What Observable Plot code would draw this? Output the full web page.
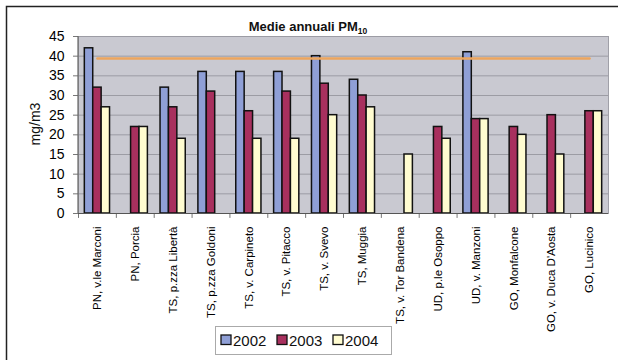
<!DOCTYPE html>
<html>
<head>
<meta charset="utf-8">
<script src="https://cdn.jsdelivr.net/npm/d3@7"></script>
<script src="https://cdn.jsdelivr.net/npm/@observablehq/plot@0.6"></script>
<style>
  body { margin: 0; background: #fff; }
  #chart svg { font-family: "Liberation Sans", Arial, sans-serif; }
</style>
</head>
<body>
<div id="chart"></div>
<script>
// Annual PM10 averages by monitoring station (mg/m3)
const stations = [
  "PN, v.le Marconi", "PN, Porcia", "TS, p.zza Libertà", "TS, p.zza Goldoni",
  "TS, v. Carpineto", "TS, v. Pitacco", "TS, v. Svevo", "TS, Muggia",
  "TS, v. Tor Bandena", "UD, p.le Osoppo", "UD, v. Manzoni", "GO, Monfalcone",
  "GO, v. Duca D'Aosta", "GO, Lucinico"
];
const years = ["2002", "2003", "2004"];
const pm2002 = [42, null, 32, 36, 36, 36, 40, 34, null, null, 41, null, null, null];
const pm2003 = [32, 22, 27, 31, 26, 31, 33, 30, null, 22, 24, 22, 25, 26];
const pm2004 = [27, 22, 19, null, 19, 19, 25, 27, 15, 19, 24, 20, 15, 26];
const limitValue = 39.4;
const yTicks = [0, 5, 10, 15, 20, 25, 30, 35, 40, 45];
const yearColors = ["#8f9fd6", "#a8305e", "#fffcd0"];

const W = 618, H = 360;
const mL = 78, mR = 10, mT = 36, mB = 147;
const band = (W - mL - mR) / stations.length;
const barW = 8.4;
const inset = (band - barW) / 2;

const series = [pm2002, pm2003, pm2004];
const rows = series.flatMap((vals, i) =>
  stations.map((s, j) => ({station: s, year: years[i], value: vals[j]}))
).filter(d => d.value != null);

const barMarks = years.map((yr, i) =>
  Plot.barY(rows.filter(d => d.year === yr), {
    x: "station", y: "value", fill: "year",
    stroke: "#111", strokeWidth: 1.5,
    insetLeft: inset, insetRight: inset, dx: (i - 1) * barW
  })
);

const plot = Plot.plot({
  width: W, height: H,
  marginLeft: mL, marginRight: mR, marginTop: mT, marginBottom: mB,
  style: {background: "transparent", fontFamily: "Liberation Sans, Arial, sans-serif"},
  x: {domain: stations, padding: 0, round: false, label: null},
  y: {domain: [0, 45], label: null},
  color: {domain: years, range: yearColors},
  marks: [
    Plot.frame({fill: "#c9c9d1", stroke: "#a0a0a8"}),
    Plot.gridY(yTicks, {stroke: "#9c9ca4", strokeOpacity: 1}),
    ...barMarks,
    Plot.line(stations, {x: d => d, y: () => limitValue, stroke: "#eda55d", strokeWidth: 2.5}),
    Plot.ruleX(stations, {x: d => d, y1: 0, y2: -1.25, dx: -band / 2, stroke: "#777", clip: false}),
    Plot.ruleY([0], {stroke: "#555", strokeWidth: 1.2}),
    Plot.axisY({ticks: yTicks, tickSize: 5, tickPadding: 9, fontSize: 14, stroke: "#777", label: null}),
    Plot.axisX({tickSize: 0, tickRotate: -90, tickPadding: 13, fontSize: 11.5, label: null})
  ]
});

document.getElementById("chart").appendChild(plot);

const svg = d3.select(plot);

// outer frame
svg.append("path")
  .attr("d", `M6.5,${H}V6.5H${W}`)
  .attr("fill", "none").attr("stroke", "#222").attr("stroke-width", 1.5);

// left axis line
svg.append("line")
  .attr("x1", mL).attr("x2", mL).attr("y1", mT).attr("y2", H - mB)
  .attr("stroke", "#666").attr("stroke-width", 1.2);

// title with subscript
const title = svg.append("text")
  .attr("x", 308).attr("y", 31)
  .attr("text-anchor", "middle")
  .attr("font-size", 13).attr("font-weight", "bold").attr("fill", "#111");
title.append("tspan").text("Medie annuali PM");
title.append("tspan").attr("font-size", 8.5).attr("dy", 3).text("10");

// y axis title
svg.append("text")
  .attr("transform", "translate(40,124) rotate(-90)")
  .attr("text-anchor", "middle")
  .attr("font-size", 14).attr("fill", "#111")
  .text("mg/m3");

// legend
const lg = svg.append("g").attr("text-anchor", "start");
lg.append("rect")
  .attr("x", 215.5).attr("y", 326.5).attr("width", 176).attr("height", 28)
  .attr("fill", "#fff").attr("stroke", "#aaa");
const color = plot.scale("color");
years.forEach((yr, i) => {
  const x0 = 221 + i * 56;
  lg.append("rect")
    .attr("x", x0).attr("y", 335).attr("width", 10).attr("height", 9.5)
    .attr("fill", yearColors[color.domain.indexOf(yr)])
    .attr("stroke", "#111").attr("stroke-width", 1.3);
  lg.append("text")
    .attr("x", x0 + 12).attr("y", 345.5)
    .attr("text-anchor", "start")
    .attr("font-size", 15).attr("fill", "#111")
    .text(yr);
});
</script>
</body>
</html>
